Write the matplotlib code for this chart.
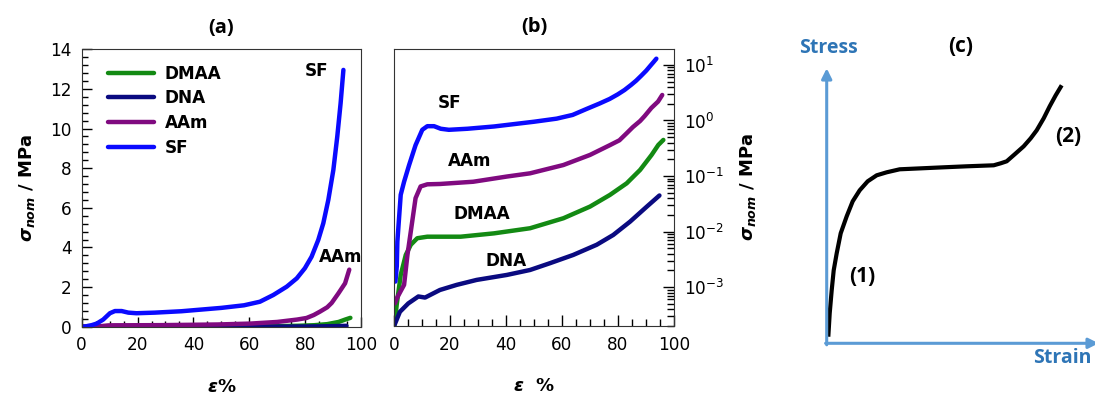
import numpy as np
import matplotlib
matplotlib.use("Agg")
import matplotlib.pyplot as plt
from matplotlib.ticker import MultipleLocator, LogLocator, NullFormatter

plt.rcParams['font.family'] = ['DejaVu Sans']
plt.rcParams['mathtext.fontset'] = 'custom'
plt.rcParams['mathtext.it'] = 'DejaVu Sans:italic:bold'
plt.rcParams['mathtext.rm'] = 'DejaVu Sans'
plt.rcParams['mathtext.bf'] = 'DejaVu Sans:bold'

# ---------------- data (strain %, stress MPa) ----------------
sf_x = [0.5, 1.0, 1.2, 2.4, 3.6, 5.4, 7.7, 10.1, 11.9, 14.3, 16.7, 19.6, 26.2, 35.7,
        50.0, 58.1, 63.8, 68.6, 73.4, 77.0, 79.9, 82.3, 84.7, 86.5, 88.3, 90.1, 91.5,
        92.7, 93.7]
sf_y = [0.00126, 0.0024, 0.0066, 0.046, 0.079, 0.158, 0.36, 0.68, 0.79, 0.79, 0.71,
        0.68, 0.71, 0.78, 0.95, 1.08, 1.26, 1.60, 2.02, 2.44, 2.95, 3.53, 4.38, 5.22,
        6.40, 7.91, 9.59, 11.28, 12.96]

aam_x = [0.3, 1.0, 3.6, 4.8, 6.5, 7.7, 9.5, 11.9, 16.4, 28.3, 40.3, 48.6, 60.5, 70.0,
         77.1, 80.5, 83.1, 85.3, 87.9, 89.5, 91.9, 94.3, 95.8]
aam_y = [0.00051, 0.00063, 0.0011, 0.0038, 0.0151, 0.040, 0.065, 0.071, 0.072, 0.079,
         0.098, 0.112, 0.158, 0.24, 0.36, 0.44, 0.59, 0.76, 0.98, 1.20, 1.68, 2.19, 2.88]

dmaa_x = [0.2, 1.0, 2.4, 4.2, 6.0, 8.3, 11.9, 23.8, 35.7, 48.6, 60.5, 70.0, 77.1, 83.1,
          87.9, 92.0, 94.4, 96.2]
dmaa_y = [0.00021, 0.0005, 0.00166, 0.0038, 0.0058, 0.0076, 0.0081, 0.0081, 0.0093,
          0.0115, 0.0174, 0.0282, 0.0457, 0.074, 0.129, 0.24, 0.363, 0.447]

dna_x = [0.2, 2.1, 5.1, 8.7, 11.1, 16.4, 22.4, 29.5, 40.3, 48.6, 55.7, 64.0, 72.4, 78.3,
         84.3, 90.3, 94.8]
dna_y = [0.00021, 0.00036, 0.00051, 0.00068, 0.00065, 0.00089, 0.0011, 0.00135, 0.00166,
         0.00204, 0.0027, 0.0038, 0.0058, 0.0087, 0.0151, 0.0282, 0.0447]

series_names = ['DMAA', 'DNA', 'AAm', 'SF']
series_colors = ['#138a13', '#0a0a80', '#800a80', '#0a0aff']

# schematic curve for panel (c), arbitrary units
sch_strain = [1.6, 3, 5, 7, 10, 14, 20, 26, 33, 41, 50, 60, 73, 95, 117, 140, 167,
              174, 180, 188, 197, 204, 210, 217, 223, 229, 235]
sch_stress = [6.6, 30, 53, 73, 90, 110, 127, 142, 153, 162, 168, 171, 174, 175,
              176, 177, 178, 180, 182, 189, 197, 205, 213, 225, 237, 248, 258]

W, H = 1095, 397
fig = plt.figure(figsize=(W / 100, H / 100), dpi=100)

def pos(l, r, t, b):
    return [l / W, 1 - b / H, (r - l) / W, (b - t) / H]

data = [(dmaa_x, dmaa_y), (dna_x, dna_y), (aam_x, aam_y), (sf_x, sf_y)]
spine_c = '#333333'
tick_c = 'black'
FS = 12.2

# ---------------- panel (a) ----------------
ax1 = fig.add_axes(pos(81.7, 361, 49.3, 326.7))
for (x, y), n, c in zip(data, series_names, series_colors):
    ax1.plot(x, y, color=c, lw=3.2, label=n, solid_capstyle='round', solid_joinstyle='round')
ax1.set_xlim(0, 100)
ax1.set_ylim(0, 14)
ax1.xaxis.set_major_locator(MultipleLocator(20))
ax1.xaxis.set_minor_locator(MultipleLocator(5))
ax1.yaxis.set_major_locator(MultipleLocator(2))
ax1.yaxis.set_minor_locator(MultipleLocator(0.4))
ax1.tick_params(which='both', direction='in', top=False, right=False, labelsize=FS,
                color=tick_c, width=1.0, pad=7)
ax1.tick_params(which='major', length=7)
ax1.tick_params(which='minor', length=4)
for s in ax1.spines.values():
    s.set_color(spine_c)
leg = ax1.legend(loc='upper left', frameon=False, prop={'weight': 'bold', 'size': FS},
                 handlelength=2.7, handletextpad=0.65, labelspacing=0.4, borderpad=0,
                 borderaxespad=0, bbox_to_anchor=(0.094, 0.945))
ax1.set_xlabel(r'$\varepsilon$%', fontsize=13, fontweight='bold', labelpad=17)
ax1.set_ylabel(r'$\sigma_{nom}$ / MPa', fontsize=13, fontweight='bold', labelpad=10)
ax1.set_title('(a)', fontsize=14.5, fontweight='bold', pad=12, family='Open Sans')
ax1.text(84.2, 12.9, 'SF', fontsize=FS, fontweight='bold', ha='center', va='center')
ax1.text(92.8, 3.5, 'AAm', fontsize=FS, fontweight='bold', ha='center', va='center')

# ---------------- panel (b) ----------------
ax2 = fig.add_axes(pos(394, 674, 48.7, 326))
for (x, y), n, c in zip(data, series_names, series_colors):
    ax2.plot(x, y, color=c, lw=3.2, solid_capstyle='round', solid_joinstyle='round')
ax2.set_yscale('log')
ax2.set_xlim(0, 100)
ax2.set_ylim(2.0e-4, 19.6)
ax2.xaxis.set_major_locator(MultipleLocator(20))
ax2.xaxis.set_minor_locator(MultipleLocator(5))
ax2.yaxis.set_major_locator(LogLocator(base=10, numticks=10))
ax2.yaxis.set_minor_locator(LogLocator(base=10, subs=np.arange(2, 10), numticks=20))
ax2.yaxis.set_minor_formatter(NullFormatter())
ax2.yaxis.tick_right()
ax2.yaxis.set_label_position('right')
ax2.tick_params(which='both', direction='in', top=False, left=False, right=True,
                labelsize=FS, color=tick_c, width=1.0, pad=7)
ax2.tick_params(which='major', length=8)
ax2.tick_params(which='minor', length=5)
for s in ax2.spines.values():
    s.set_color(spine_c)
ax2.set_xlabel(r'$\varepsilon$  %', fontsize=13, fontweight='bold', labelpad=17)
ax2.set_ylabel(r'$\sigma_{nom}$ / MPa', fontsize=13, fontweight='bold', labelpad=10)
ax2.set_title('(b)', fontsize=14.5, fontweight='bold', pad=12, family='Open Sans')
for txt, x, y in [('SF', 20, 2.1), ('AAm', 27.1, 0.19), ('DMAA', 31.3, 0.021), ('DNA', 40, 0.0030)]:
    ax2.text(x, y, txt, fontsize=FS, fontweight='bold', ha='center', va='center')

# ---------------- panel (c) ----------------
ax3 = fig.add_axes(pos(800, 1095, 0, 397))
ax3.set_xlim(800 - 826.7, 1095 - 826.7)
ax3.set_ylim(343.3 - 397, 343.3)
ax3.axis('off')
arrow_c = '#5b9bd5'
ax3.annotate('', xy=(0, 275), xytext=(0, -1.5),
             arrowprops=dict(arrowstyle='-|>,head_length=0.6,head_width=0.3', color=arrow_c, lw=2.2,
                             shrinkA=0, shrinkB=0))
ax3.annotate('', xy=(272, 0), xytext=(-1.1, 0),
             arrowprops=dict(arrowstyle='-|>,head_length=0.6,head_width=0.3', color=arrow_c, lw=2.2,
                             shrinkA=0, shrinkB=0), annotation_clip=False)
ax3.plot(sch_strain, sch_stress, color='black', lw=3.0, solid_capstyle='butt',
         solid_joinstyle='round')
tc = '#2e75b6'
ax3.text(1.3, 295.3, 'Stress', color=tc, fontsize=14, fontweight='bold', ha='center',
         va='center', family='Open Sans')
ax3.text(235.3, -14.7, 'Strain', color=tc, fontsize=14, fontweight='bold', ha='center',
         va='center', family='Open Sans')
ax3.text(134.3, 296.3, '(c)', color='black', fontsize=15, fontweight='bold', ha='center',
         va='center', family='Open Sans')
ax3.text(35.3, 66.3, '(1)', color='black', fontsize=15, fontweight='bold', ha='center',
         va='center', family='Open Sans')
ax3.text(241.3, 207.3, '(2)', color='black', fontsize=15, fontweight='bold', ha='center',
         va='center', family='Open Sans')

fig.savefig('out.png', dpi=100)
